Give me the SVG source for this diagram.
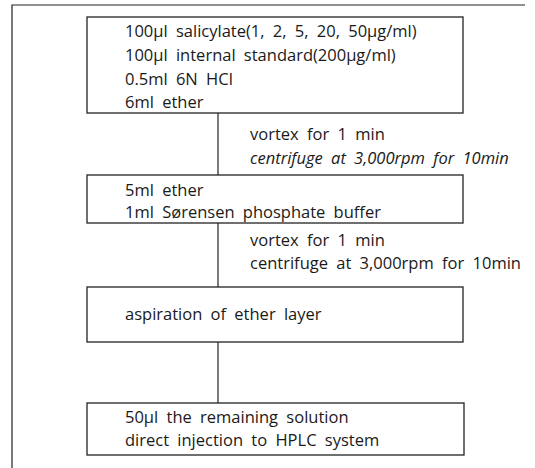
<svg xmlns="http://www.w3.org/2000/svg" width="535" height="468" viewBox="0 0 535 468">
<style>
.box{fill:none;stroke:#222;stroke-width:1.3}
.ln{fill:none;stroke:#222;stroke-width:1.2}
text{font-family:"Open Sans","Noto Sans","Liberation Sans",sans-serif;font-size:16.5px;fill:#1a1a1a;word-spacing:4px}
.it{font-style:italic}
</style>
<rect width="535" height="468" fill="#fff"/>
<g id="frame"><path class="ln" d="M525,5 H12 V468"/></g>
<g id="connectors">
<line class="ln" x1="218" y1="113" x2="218" y2="175"/>
<line class="ln" x1="218" y1="223" x2="218" y2="287"/>
<line class="ln" x1="218" y1="342" x2="218" y2="403"/>
</g>
<g id="step1">
<rect class="box" x="87" y="17" width="376" height="96"/>
<text x="125" y="37">100μl salicylate(1, 2, 5, 20, 50μg/ml)</text>
<text x="125" y="61">100μl internal standard(200μg/ml)</text>
<text x="125" y="85">0.5ml 6N HCl</text>
<text x="125" y="108">6ml ether</text>
</g>
<g id="label1">
<text x="250" y="140">vortex for 1 min</text>
<text class="it" x="250" y="164">centrifuge at 3,000rpm for 10min</text>
</g>
<g id="step2">
<rect class="box" x="87" y="175" width="376" height="48"/>
<text x="125" y="196">5ml ether</text>
<text x="125" y="218">1ml Sørensen phosphate buffer</text>
</g>
<g id="label2">
<text x="250" y="246">vortex for 1 min</text>
<text x="250" y="269">centrifuge at 3,000rpm for 10min</text>
</g>
<g id="step3">
<rect class="box" x="87" y="287" width="376" height="55"/>
<text x="125" y="320">aspiration of ether layer</text>
</g>
<g id="step4">
<rect class="box" x="87" y="403" width="377" height="52"/>
<text x="125" y="423">50μl the remaining solution</text>
<text x="125" y="446">direct injection to HPLC system</text>
</g>
</svg>
